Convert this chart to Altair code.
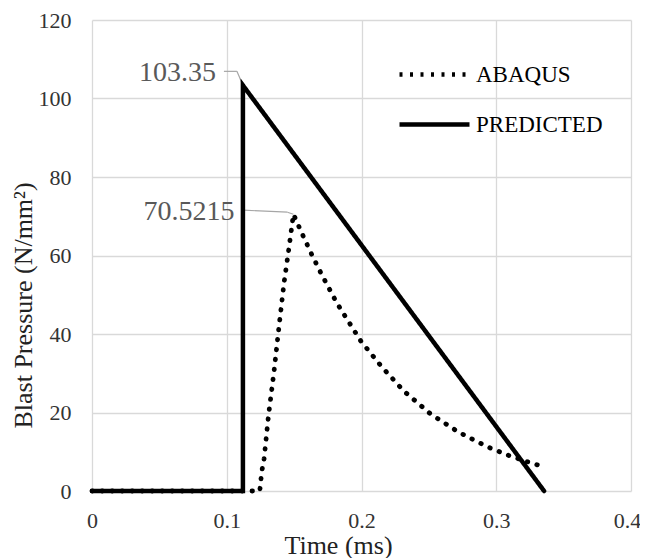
import altair as alt
import pandas as pd

# ---- data ----
abaqus_t = [0, 0.122, 0.1245, 0.126, 0.1277, 0.131, 0.1351, 0.1388, 0.1425, 0.146, 0.1495,
            0.1557, 0.163, 0.1705, 0.1817, 0.1995, 0.2151, 0.2316, 0.251, 0.272, 0.2937, 0.309, 0.3252, 0.333]
abaqus_p = [0, 0, 0, 5, 8.2, 19.3, 30.5, 42, 53, 61.5, 70.5215,
            65.7, 60.3, 55.1, 47.9, 38.2, 31.6, 25.4, 19.7, 15.0, 11.2, 9.1, 7.2, 6.4]
pred_t = [0, 0.112, 0.112, 0.3355]
pred_p = [0, 0, 103.35, 0]
series = ["ABAQUS", "PREDICTED"]
x_ticks = [0, 0.1, 0.2, 0.3, 0.4]
y_ticks = [0, 20, 40, 60, 80, 100, 120]

rows = []
for i, (t, p) in enumerate(zip(abaqus_t, abaqus_p)):
    rows.append({"t": t, "p": p, "s": series[0], "o": i})
for i, (t, p) in enumerate(zip(pred_t, pred_p)):
    rows.append({"t": t, "p": p, "s": series[1], "o": i})
df = pd.DataFrame(rows)

peaks = pd.DataFrame({
    "t": [pred_t[2], abaqus_t[abaqus_p.index(max(abaqus_p))]],
    "p": [pred_p[2], max(abaqus_p)],
    "label": ["103.35", "70.5215"],
})

FONT = "Liberation Serif"
xs = alt.Scale(domain=[0, 0.4], nice=False)
ys = alt.Scale(domain=[0, 120], nice=False)
X = alt.X("t:Q", scale=xs, title="Time (ms)",
          axis=alt.Axis(values=x_ticks, format="~g", labelPadding=19, titlePadding=1,
                        labelFlush=False, titleX=246,
                        labelOffset={"condition": {"test": "datum.value >= 0.39", "value": -4},
                                     "value": 0}))
Y = alt.Y("p:Q", scale=ys, title="Blast Pressure (N/mm²)",
          axis=alt.Axis(values=y_ticks, labelPadding=21, titlePadding=2, titleY=285))

# visible data lines (round dotted ABAQUS, solid PREDICTED)
lines = alt.Chart(df).mark_line(strokeCap="round", strokeJoin="miter", color="black").encode(
    x=X, y=Y,
    detail="s:N",
    order="o:Q",
    strokeDash=alt.StrokeDash("s:N", scale=alt.Scale(domain=series, range=[[0.5, 9.5], [1, 0]]),
                              legend=None),
    strokeWidth=alt.StrokeWidth("s:N", scale=alt.Scale(domain=series, range=[4.8, 4.5]), legend=None),
)

# legend-only layer (no rows drawn)
legend_layer = alt.Chart(df).transform_filter("false").mark_line(color="black").encode(
    x=alt.X("t:Q", scale=xs), y=alt.Y("p:Q", scale=ys),
    strokeDash=alt.StrokeDash("s:N", scale=alt.Scale(domain=series, range=[[3, 7.5], [1, 0]]),
                              legend=alt.Legend(title=None, orient="none", legendX=305, legendY=17,
                                                symbolType="stroke", symbolSize=4900,
                                                symbolStrokeWidth=4.5, symbolStrokeColor="black",
                                                labelFont=FONT, labelFontSize=23, labelColor="black",
                                                labelOffset=4, rowPadding=-19)),
)

def leader(row, x1, y1, x2, y2):
    return alt.Chart(peaks.iloc[[row]]).mark_rule(
        color="#a6a6a6", strokeWidth=1.2,
        xOffset=x1, yOffset=y1, x2Offset=x2, y2Offset=y2).encode(
        x=alt.X("t:Q", scale=xs), y=alt.Y("p:Q", scale=ys), x2="t:Q", y2="p:Q")

def label(row, dx, dy):
    return alt.Chart(peaks.iloc[[row]]).mark_text(
        font=FONT, fontSize=28, color="#595959", align="right",
        baseline="middle", dx=dx, dy=dy).encode(
        x=alt.X("t:Q", scale=xs), y=alt.Y("p:Q", scale=ys), text="label:N")

chart = alt.layer(
    leader(0, 0, 0, -6, -14), leader(0, -6, -14, -19, -14),
    leader(1, 0, 0, -6, -2), leader(1, -6, -2, -50, -4),
    lines, legend_layer,
    label(0, -27, -12), label(1, -59, -2),
).resolve_scale(strokeDash="independent").properties(
    width=539, height=471,
    autosize=alt.AutoSizeParams(type="none"),
    padding={"left": 84, "top": 12, "right": 9, "bottom": 80},
    background="white",
).configure_axis(
    grid=True, gridColor="#d9d9d9", gridWidth=1.3, domain=False, ticks=False,
    labelFont=FONT, labelFontSize=22, labelColor="#333333",
    titleFont=FONT, titleFontSize=26, titleFontWeight="normal", titleColor="#222222",
).configure_view(stroke=None)

chart.save("out.html", embed_options={"renderer": "svg", "actions": False})
